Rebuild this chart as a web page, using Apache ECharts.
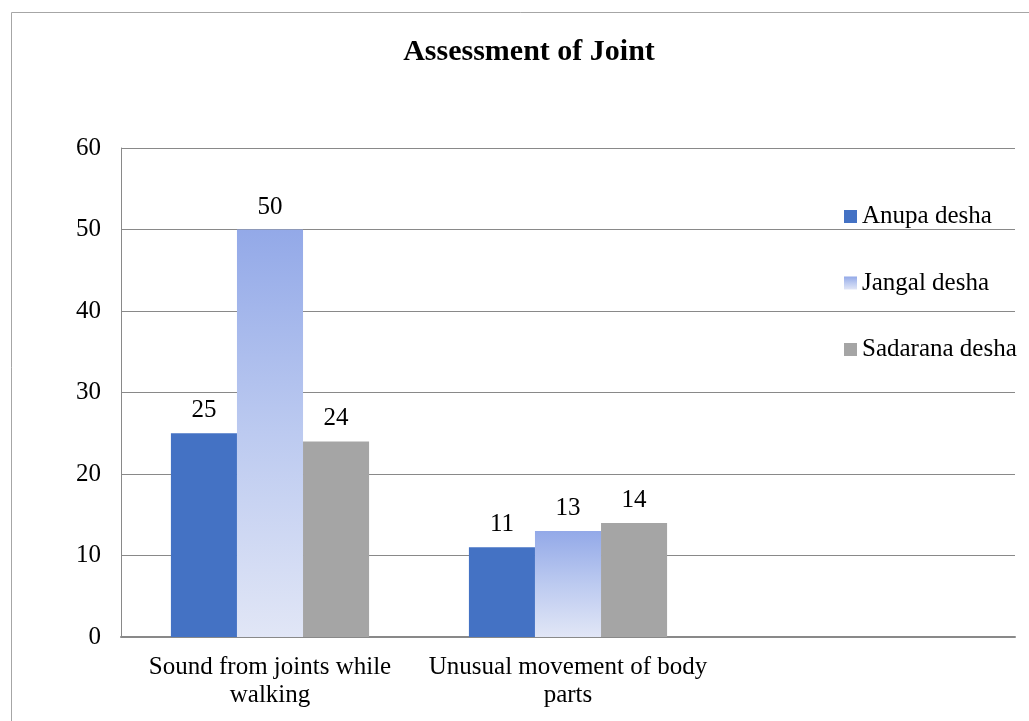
<!DOCTYPE html>
<html>
<head>
<meta charset="utf-8">
<title>Assessment of Joint</title>
<script src="https://cdn.jsdelivr.net/npm/echarts@6/dist/echarts.min.js"></script>
<style>
    html, body { margin: 0; padding: 0; background: #fff; }
    #chart { width: 1029px; height: 721px; }
</style>
</head>
<body>
<div id="chart"></div>
<script>
// categories (third one is empty in the original)
var categories = ['Sound from joints while\nwalking', 'Unusual movement of body\nparts', ''];
var seriesNames = ['Anupa desha', 'Jangal desha', 'Sadarana desha'];
var anupa = [25, 11, null];
var jangal = [50, 13, null];
var sadarana = [24, 14, null];
var yTicks = [0, 10, 20, 30, 40, 50, 60];

var FONT = '"Liberation Serif", "Times New Roman", serif';

var chart = echarts.init(document.getElementById('chart'));

//标签样式
function barLabel() {
    return {
        show: true,
        position: 'top',
        distance: 10,
        fontFamily: FONT,
        fontSize: 25,
        color: '#000'
    };
}

var option = {
    animation: false,
    backgroundColor: '#fff',
    textStyle: { fontFamily: FONT },
    title: {
        text: 'Assessment of Joint',
        left: 524,
        textAlign: 'center',
        top: 32,
        textStyle: { fontFamily: FONT, fontSize: 30, fontWeight: 'bold', color: '#000' }
    },
    graphic: [{
        type: 'rect',
        shape: { x: 11.5, y: 12.5, width: 1040, height: 740 },
        style: { fill: 'none', stroke: '#a6a6a6', lineWidth: 1 },
        silent: true
    }],
    legend: {
        orient: 'vertical',
        left: 839,
        top: 199,
        itemWidth: 13,
        itemHeight: 13,
        itemGap: 41.5,
        icon: 'rect',
        textStyle: { fontFamily: FONT, fontSize: 25, color: '#000' },
        data: seriesNames
    },
    grid: {
        left: 121,
        right: 14,
        top: 148,
        bottom: 84,
        containLabel: false
    },
    xAxis: {
        type: 'category',
        data: categories,
        axisLine: { lineStyle: { color: '#898989', width: 2 } },
        axisTick: { show: false },
        axisLabel: {
            fontFamily: FONT,
            fontSize: 25,
            color: '#000',
            lineHeight: 28,
            margin: 16,
            interval: 0
        }
    },
    yAxis: {
        type: 'value',
        min: yTicks[0],
        max: yTicks[yTicks.length - 1],
        interval: 10,
        axisLine: { show: true, lineStyle: { color: '#898989', width: 1 } },
        axisTick: { show: false },
        splitLine: { lineStyle: { color: '#898989', width: 1 } },
        axisLabel: {
            fontFamily: FONT,
            fontSize: 25,
            color: '#000',
            margin: 20
        }
    },
    series: [
        {
            name: seriesNames[0],
            type: 'bar',
            data: anupa,
            barGap: '0%',
            barCategoryGap: '33.5%',
            itemStyle: { color: '#4472c4' },
            label: barLabel()
        },
        {
            name: seriesNames[1],
            type: 'bar',
            data: jangal,
            itemStyle: {
                color: new echarts.graphic.LinearGradient(0, 0, 0, 1, [
                    { offset: 0, color: '#93a9e8' },
                    { offset: 0.5, color: '#bccaf0' },
                    { offset: 1, color: '#e1e6f6' }
                ])
            },
            label: barLabel()
        },
        {
            name: seriesNames[2],
            type: 'bar',
            data: sadarana,
            itemStyle: { color: '#a5a5a5' },
            label: barLabel()
        }
    ]
};

chart.setOption(option);
</script>
</body>
</html>
